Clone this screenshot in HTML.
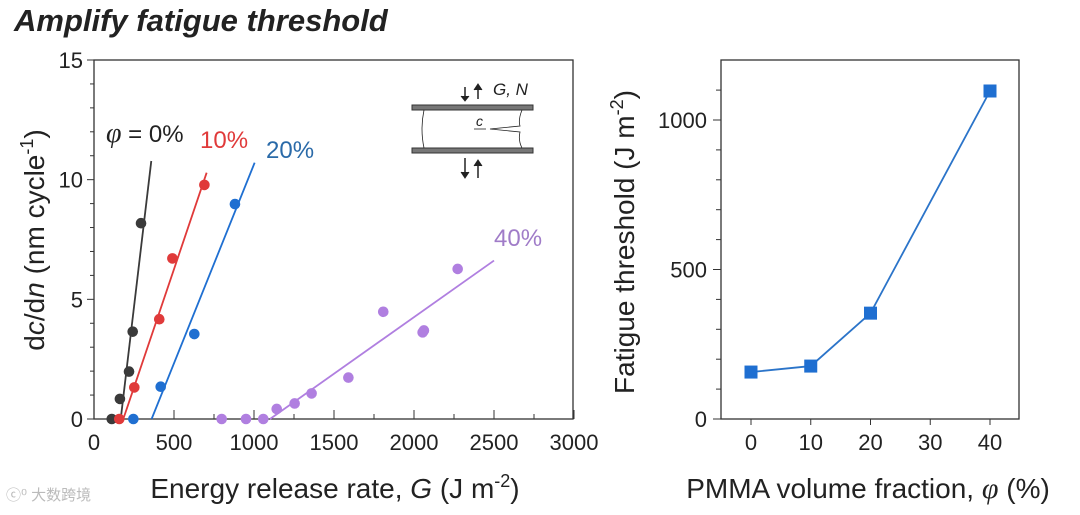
<!DOCTYPE html>
<html><head><meta charset="utf-8"><style>
body{margin:0;background:#fff;}
svg{display:block;font-family:"Liberation Sans",Arial,sans-serif;}
</style></head><body>
<svg id="fig" width="1080" height="515" viewBox="0 0 1080 515" xmlns="http://www.w3.org/2000/svg">
<text x="14" y="31" font-size="31" font-weight="bold" font-style="italic" fill="#222">Amplify fatigue threshold</text>
<g id="left"></g>
<g id="right"></g>
<g stroke="#222" fill="none">
<rect x="412" y="105" width="121" height="5" fill="#777" stroke="#333"/>
<rect x="412" y="148" width="121" height="5" fill="#777" stroke="#333"/>
<path d="M424 110 Q420 129 424 148" stroke-width="0.8"/>
<path d="M522 110 Q518 120 520 126 L490 129 L520 132 Q518 140 522 148" stroke-width="0.8"/>
<line x1="465" y1="87" x2="465" y2="100" stroke-width="1.5"/><path d="M461 96 L465 101 L469 96" fill="#222"/>
<line x1="478" y1="85" x2="478" y2="99" stroke-width="1.5"/><path d="M474 90 L478 84 L482 90" fill="#222"/>
<line x1="465" y1="158" x2="465" y2="176" stroke-width="1.5"/><path d="M461 172 L465 178 L469 172" fill="#222"/>
<line x1="478" y1="162" x2="478" y2="178" stroke-width="1.5"/><path d="M474 166 L478 160 L482 166" fill="#222"/>
<line x1="474" y1="129" x2="486" y2="129" stroke-width="0.8"/>
</g>
<text x="493" y="95" font-size="17" font-style="italic" fill="#222">G, N</text>
<text x="476" y="126" font-size="14" font-style="italic" fill="#222">c</text>
<text x="6" y="500" font-size="15" fill="#bbb" font-family="'Liberation Sans','Noto Sans CJK SC',sans-serif">ⓒ⁰ 大数跨境</text>
</svg>
<script>
const NS="http://www.w3.org/2000/svg";
// Left chart data
const gBlack=[111,162,219,242,294];
const rBlack=[0,0.84,1.98,3.65,8.18];
const fitBlack=[[167,0],[358,10.78]];
const gRed=[158,252,408,490,690];
const rRed=[0,1.32,4.17,6.71,9.78];
const fitRed=[[183,0],[704,10.29]];
const gBlue=[246,417,627,881];
const rBlue=[0,1.35,3.55,8.98];
const fitBlue=[[360,0],[1004,10.71]];
const gPurple=[798,950,1058,1142,1254,1360,1590,1808,2054,2062,2273];
const rPurple=[0,0,0,0.42,0.65,1.07,1.73,4.48,3.62,3.7,6.27];
const fitPurple=[[1100,0],[2500,6.62]];
const xTicksL=[0,500,1000,1500,2000,2500,3000];
const yTicksL=[0,5,10,15];
// Right chart data
const phi=[0,10,20,40];
const threshold=[157,177,354,1097];
const xTicksR=[0,10,20,30,40];
const yTicksR=[0,500,1000];

function el(p,t,a){const e=document.createElementNS(NS,t);for(const k in a)e.setAttribute(k,a[k]);p.appendChild(e);return e;}
const L=document.getElementById('left'),R=document.getElementById('right');
const xL=v=>94+v/500*80, yL=v=>419-v/15*359;
const xR=v=>751+v/10*59.75, yR=v=>419-v/1000*299;

let f=el(L,'rect',{x:94,y:60,width:479,height:359,fill:'none',stroke:'#333','stroke-width':1.3});


for(let v=0;v<=3000;v+=250){el(L,'line',{x1:xL(v),x2:xL(v),y1:419,y2:v%500?414:410,stroke:'#333'});}
for(let v=0;v<=15;v+=1){el(L,'line',{x1:94,x2:v%5?90:87,y1:yL(v),y2:yL(v),stroke:'#333'});}
xTicksL.forEach(v=>{const t=el(L,'text',{x:xL(v),y:450,'font-size':22,'text-anchor':'middle',fill:'#222'});t.textContent=v;

});
yTicksL.forEach(v=>{const t=el(L,'text',{x:83,y:yL(v)+8,'font-size':22,'text-anchor':'end',fill:'#222'});t.textContent=v;

});
let yt=el(L,'text',{transform:'translate(44,240) rotate(-90)','font-size':28,'text-anchor':'middle',fill:'#222'});
yt.innerHTML='d<tspan font-style="italic">c</tspan>/d<tspan font-style="italic">n</tspan> (nm cycle<tspan dy="-11" font-size="18">-1</tspan><tspan dy="11">)</tspan>';


let xt=el(L,'text',{x:335,y:498,'font-size':28,'text-anchor':'middle',fill:'#222'});
xt.innerHTML='Energy release rate,  <tspan font-style="italic">G</tspan> (J m<tspan dy="-11" font-size="18">-2</tspan><tspan dy="11">)</tspan>';



const series=[[gBlack,rBlack,fitBlack,'#3a3a3a','black'],[gRed,rRed,fitRed,'#e03a3a','red'],[gBlue,rBlue,fitBlue,'#1f6fd1','blue'],[gPurple,rPurple,fitPurple,'#b07fe0','purple']];
series.forEach(([xs,ys,fit,c,n])=>{
 const ln=el(L,'line',{x1:xL(fit[0][0]),y1:yL(fit[0][1]),x2:xL(fit[1][0]),y2:yL(fit[1][1]),stroke:c,'stroke-width':1.8});
 
 
 xs.forEach((x,i)=>{const p=el(L,'circle',{cx:xL(x),cy:yL(ys[i]),r:5.3,fill:c});
 
 });
});
const labs=[[106,142,'#222','legend-0'],[200,148,'#e03a3a','legend-10'],[266,158,'#2a6aa8','legend-20'],[494,246,'#a07cc8','legend-40']];
const labTxt=['<tspan font-style="italic" font-family="Liberation Serif" font-size="28">φ</tspan>  = 0%','10%','20%','40%'];
labs.forEach((l,i)=>{const t=el(L,'text',{x:l[0],y:l[1],'font-size':24,fill:l[2]});t.innerHTML=labTxt[i];

});

f=el(R,'rect',{x:721,y:60,width:298,height:359,fill:'none',stroke:'#333','stroke-width':1.3});


for(let v=0;v<=1100;v+=100){el(R,'line',{x1:721,x2:v%500?716:713,y1:yR(v),y2:yR(v),stroke:'#333'});}
xTicksR.forEach(v=>{el(R,'line',{x1:xR(v),x2:xR(v),y1:419,y2:425,stroke:'#333'});
const t=el(R,'text',{x:xR(v),y:450,'font-size':22,'text-anchor':'middle',fill:'#222'});t.textContent=v;

});
yTicksR.forEach(v=>{const t=el(R,'text',{x:707,y:yR(v)+8,'font-size':22,'text-anchor':'end',fill:'#222'});t.textContent=v;

});
yt=el(R,'text',{transform:'translate(634,242) rotate(-90)','font-size':28,'text-anchor':'middle',fill:'#222'});
yt.innerHTML='Fatigue threshold (J m<tspan dy="-11" font-size="18">-2</tspan><tspan dy="11">)</tspan>';


xt=el(R,'text',{x:868,y:498,'font-size':28,'text-anchor':'middle',fill:'#222'});
xt.innerHTML='PMMA volume fraction,  <tspan font-style="italic" font-family="Liberation Serif" font-size="30">φ</tspan> (%)';


const pl=el(R,'polyline',{points:phi.map((p,i)=>xR(p)+','+yR(threshold[i])).join(' '),fill:'none',stroke:'#2b74c9','stroke-width':1.8});


phi.forEach((p,i)=>{const s=el(R,'rect',{x:xR(p)-6.5,y:yR(threshold[i])-6.5,width:13,height:13,fill:'#1f6fd1'});

});
</script>
</body></html>
